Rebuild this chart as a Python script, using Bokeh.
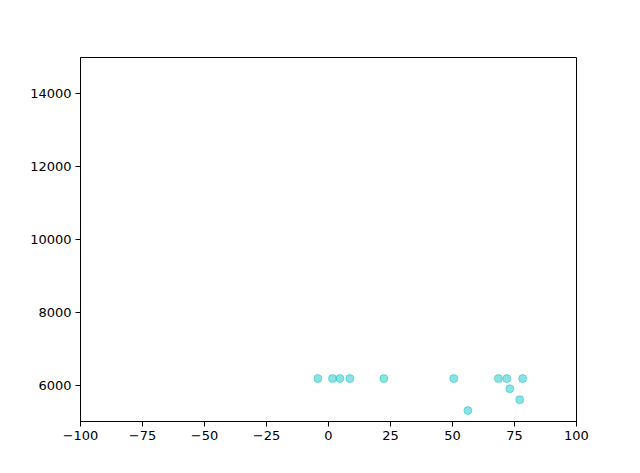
from bokeh.plotting import figure
from bokeh.models import Range1d, FixedTicker
from bokeh.embed import file_html
from bokeh.resources import INLINE

xs = [-4.3, 1.6, 4.6, 8.6, 22.3, 50.5, 68.5, 71.9, 78.3, 73.1, 77.1, 56.2]
ys = [6180, 6180, 6180, 6180, 6180, 6180, 6180, 6180, 6180, 5900, 5600, 5300]
x_ticks = [-100, -75, -50, -25, 0, 25, 50, 75, 100]
y_ticks = [6000, 8000, 10000, 12000, 14000]

p = figure(width=632, height=465, output_backend="svg", toolbar_location=None,
           x_range=Range1d(-100, 100), y_range=Range1d(5000, 15000),
           min_border_left=80, min_border_right=56, min_border_top=57, min_border_bottom=44)
p.scatter(xs, ys, size=8, fill_color="#00bfbf", fill_alpha=0.45,
          line_color="#00bfbf", line_alpha=0.45, line_width=1)

p.xgrid.visible = False
p.ygrid.visible = False
p.outline_line_color = "black"
p.outline_line_width = 1
p.outline_line_alpha = 1
p.background_fill_color = "white"
p.border_fill_color = "white"

p.xaxis.ticker = FixedTicker(ticks=x_ticks)
p.yaxis.ticker = FixedTicker(ticks=y_ticks)
p.xaxis.major_label_overrides = {t: (str(t).replace("-", "\u2212")) for t in x_ticks}
for ax in (p.xaxis[0], p.yaxis[0]):
    ax.minor_tick_line_color = None
    ax.major_tick_out = 5
    ax.major_tick_in = 0
    ax.major_tick_line_color = "black"
    ax.axis_line_color = "black"
    ax.major_label_text_font = "DejaVu Sans"
    ax.major_label_text_font_size = "13px"
    ax.major_label_text_color = "black"
    ax.major_label_standoff = 4
p.yaxis.formatter.use_scientific = False

open("out.html", "w").write(file_html(p, INLINE))
